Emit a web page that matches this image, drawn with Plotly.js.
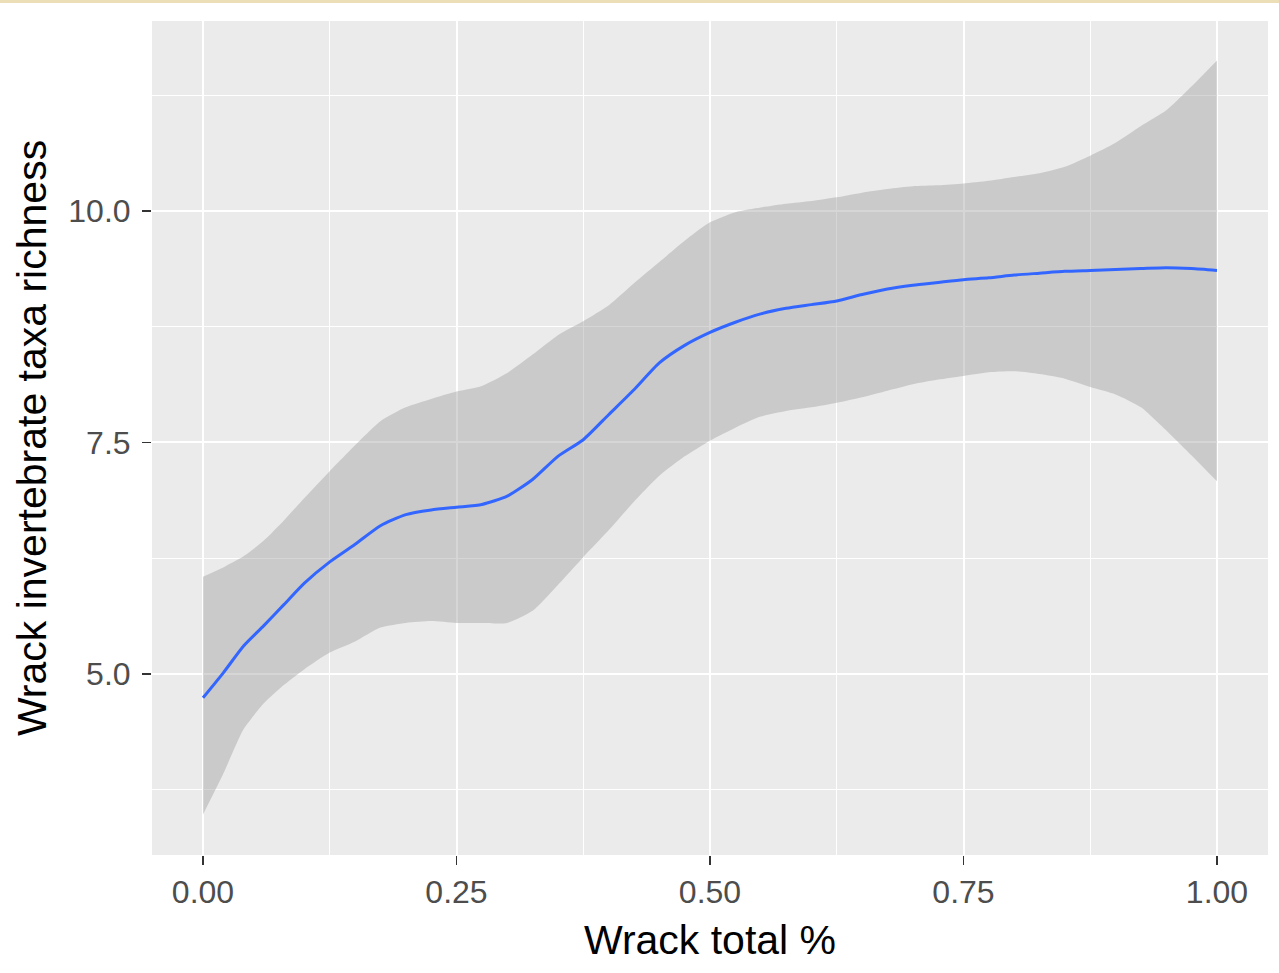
<!DOCTYPE html>
<html>
<head>
<meta charset="utf-8">
<script src="https://cdn.plot.ly/plotly-3.0.1.min.js"></script>
<style>
  html, body { margin: 0; padding: 0; background: #ffffff; }
  #chart { width: 1279px; height: 973px; }
</style>
</head>
<body>
<div id="chart"></div>
<script>
// Wrack total % (x) and LOESS fit with confidence band
const wrackTotal = [0.00, 0.02, 0.04, 0.06, 0.08, 0.10, 0.125, 0.15, 0.175, 0.20, 0.225, 0.25, 0.275, 0.30,
  0.325, 0.35, 0.375, 0.40, 0.425, 0.45, 0.475, 0.50, 0.525, 0.55, 0.575, 0.60, 0.625, 0.65, 0.675, 0.70,
  0.725, 0.75, 0.775, 0.80, 0.825, 0.85, 0.875, 0.90, 0.925, 0.95, 0.975, 1.00];
const fitRichness = [4.74, 5.01, 5.30, 5.52, 5.75, 5.98, 6.21, 6.40, 6.60, 6.72, 6.77, 6.80, 6.83, 6.92,
  7.10, 7.35, 7.53, 7.80, 8.07, 8.36, 8.55, 8.69, 8.80, 8.89, 8.95, 8.99, 9.03, 9.10, 9.16, 9.20,
  9.23, 9.26, 9.28, 9.31, 9.33, 9.35, 9.36, 9.37, 9.38, 9.39, 9.38, 9.36];
const lowerCI = [3.48, 3.92, 4.40, 4.68, 4.88, 5.05, 5.23, 5.35, 5.50, 5.55, 5.57, 5.55, 5.55, 5.55,
  5.68, 5.96, 6.26, 6.55, 6.86, 7.14, 7.35, 7.52, 7.66, 7.78, 7.84, 7.88, 7.93, 7.99, 8.06, 8.13,
  8.18, 8.22, 8.26, 8.27, 8.24, 8.19, 8.10, 8.02, 7.88, 7.63, 7.36, 7.08];
const upperCI = [6.05, 6.15, 6.27, 6.44, 6.66, 6.90, 7.19, 7.47, 7.73, 7.88, 7.97, 8.05, 8.11, 8.25,
  8.45, 8.66, 8.81, 8.98, 9.22, 9.45, 9.68, 9.88, 9.99, 10.04, 10.08, 10.11, 10.15, 10.20, 10.24, 10.27,
  10.28, 10.30, 10.33, 10.37, 10.41, 10.48, 10.60, 10.74, 10.92, 11.09, 11.35, 11.63];

const xTickVals = [0, 0.25, 0.5, 0.75, 1.0];
const xTickText = ['0.00', '0.25', '0.50', '0.75', '1.00'];
const yTickVals = [5.0, 7.5, 10.0];
const yTickText = ['5.0', '7.5', '10.0'];

const FONT = 'Liberation Sans, Arial, sans-serif';

const traces = [
  {
    x: wrackTotal, y: lowerCI, type: 'scatter', mode: 'lines',
    line: { width: 0, color: 'rgba(0,0,0,0)', shape: 'spline', smoothing: 0.6 },
    showlegend: false, hoverinfo: 'skip'
  },
  {
    x: wrackTotal, y: upperCI, type: 'scatter', mode: 'lines',
    line: { width: 0, color: 'rgba(0,0,0,0)', shape: 'spline', smoothing: 0.6 }, fill: 'tonexty',
    fillcolor: 'rgba(153,153,153,0.4)', showlegend: false, hoverinfo: 'skip'
  },
  {
    x: wrackTotal, y: fitRichness, type: 'scatter', mode: 'lines',
    line: { width: 3, color: '#3366FF', shape: 'spline', smoothing: 0.6 }, showlegend: false
  }
];

const layout = {
  width: 1279, height: 973,
  margin: { l: 152, r: 11, t: 21, b: 118, pad: 0 },
  paper_bgcolor: '#ffffff',
  plot_bgcolor: '#EBEBEB',
  showlegend: false,
  xaxis: {
    range: [-0.0503, 1.0503],
    tickvals: xTickVals, ticktext: xTickText,
    ticks: 'outside', ticklen: 9, tickwidth: 1.5, tickcolor: '#333333',
    showgrid: true, gridcolor: '#ffffff', gridwidth: 2,
    minor: { tickvals: [0.125, 0.375, 0.625, 0.875], showgrid: true, gridcolor: '#ffffff', gridwidth: 1, ticks: '' },
    zeroline: false, showline: false,
    tickfont: { family: FONT, size: 32, color: '#4D4D4D' },
    title: { text: 'Wrack total %', font: { family: FONT, size: 41, color: '#000000' }, standoff: 15 },
    automargin: false
  },
  yaxis: {
    range: [3.041, 12.056],
    tickvals: yTickVals, ticktext: yTickText,
    ticks: 'outside', ticklen: 9, tickwidth: 1.5, tickcolor: '#333333',
    ticklabelstandoff: 5,
    showgrid: true, gridcolor: '#ffffff', gridwidth: 2,
    minor: { tickvals: [3.75, 6.25, 8.75, 11.25], showgrid: true, gridcolor: '#ffffff', gridwidth: 1, ticks: '' },
    zeroline: false, showline: false,
    tickfont: { family: FONT, size: 32, color: '#4D4D4D' },
    title: { text: 'Wrack invertebrate taxa richness', font: { family: FONT, size: 41, color: '#000000' }, standoff: 8 },
    automargin: false
  },
  shapes: [
    {
      type: 'rect', xref: 'paper', yref: 'paper',
      x0: -0.2, x1: 1.2, y0: 1.0216, y1: 1.05,
      fillcolor: '#ecdfb8', line: { width: 0 }, layer: 'above'
    }
  ]
};

Plotly.newPlot('chart', traces, layout, { staticPlot: true, displayModeBar: false });
</script>
</body>
</html>
